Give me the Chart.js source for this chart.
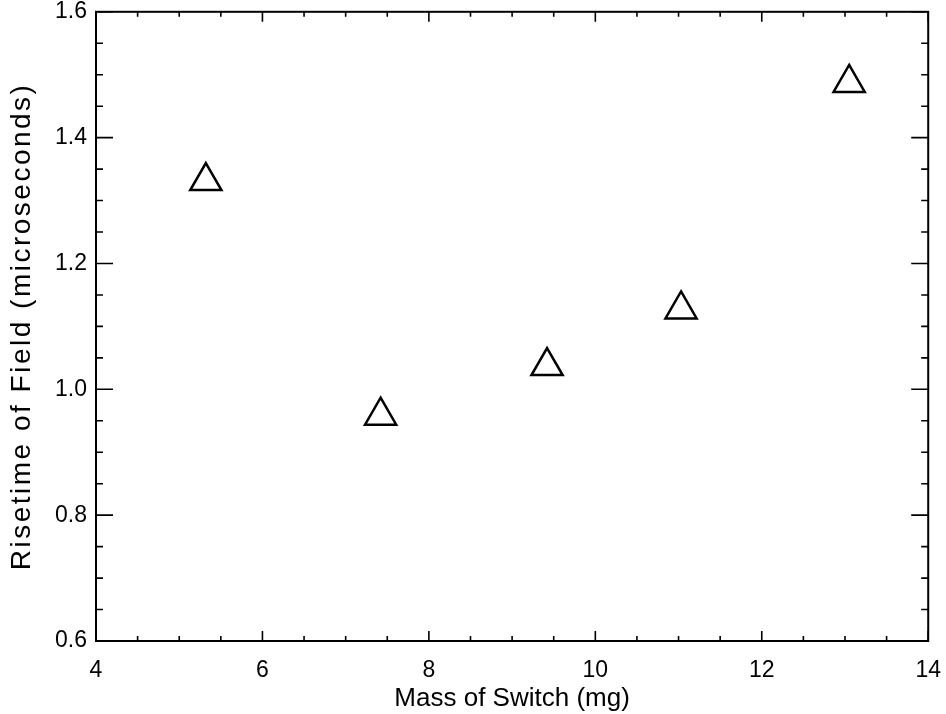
<!DOCTYPE html>
<html>
<head>
<meta charset="utf-8">
<script src="https://cdn.jsdelivr.net/npm/chart.js@4"></script>
<style>
  html,body{margin:0;padding:0;background:#fff;overflow:hidden}
  #wrap{width:946px;height:714px;overflow:hidden}
  /* Chart.js keeps ~11px for the end tick labels; pull the canvas so the box sits where the scan has it */
  #c{display:block;margin-top:-11px}
</style>
</head>
<body>
<div id="wrap"><canvas id="c" width="957" height="725"></canvas></div>
<script>
// data
const massMg   = [5.32, 7.42, 9.42, 11.03, 13.05];
const risetime = [1.331, 0.958, 1.037, 1.127, 1.487];
const xRange = [4, 14];
const yRange = [0.6, 1.6];

const FONT = "'Liberation Sans', Arial, Helvetica, sans-serif";

// inward ticks on all four sides + frame, like the IDL plot box
const boxTicks = {
  id: 'boxTicks',
  afterDraw(chart) {
    const { ctx, chartArea: a, scales: { x, y } } = chart;
    ctx.save();
    ctx.strokeStyle = '#000';
    ctx.lineWidth = 2;
    ctx.strokeRect(a.left, a.top, a.right - a.left, a.bottom - a.top);
    ctx.lineWidth = 1.6;
    ctx.beginPath();
    // x: minor every 0.5, major every 2
    for (let i = 0; i <= 20; i++) {
      const px = x.getPixelForValue(xRange[0] + i * 0.5);
      const len = i % 4 === 0 ? 10 : 5;
      ctx.moveTo(px, a.bottom); ctx.lineTo(px, a.bottom - len);
      ctx.moveTo(px, a.top); ctx.lineTo(px, a.top + len);
    }
    // y: minor every 0.05, major every 0.2
    for (let i = 0; i <= 20; i++) {
      const py = y.getPixelForValue(yRange[0] + i * 0.05);
      const len = i % 4 === 0 ? 17 : 7;
      ctx.moveTo(a.left, py); ctx.lineTo(a.left + len, py);
      ctx.moveTo(a.right, py); ctx.lineTo(a.right - len, py);
    }
    ctx.stroke();
    ctx.restore();
  }
};

new Chart(document.getElementById('c'), {
  type: 'scatter',
  data: {
    datasets: [{
      data: massMg.map((m, i) => ({ x: m, y: risetime[i] })),
      pointStyle: 'triangle',
      pointRadius: 18,
      pointHoverRadius: 18,
      borderColor: '#000',
      backgroundColor: 'rgba(0,0,0,0)',
      borderWidth: 2.5,
      showLine: false
    }]
  },
  options: {
    responsive: false,
    animation: false,
    layout: { padding: { top: 0, right: 7, left: 0, bottom: 0 } },
    plugins: { legend: { display: false }, tooltip: { enabled: false } },
    scales: {
      x: {
        type: 'linear', min: xRange[0], max: xRange[1],
        grid: { display: false, drawTicks: false }, border: { display: false },
        ticks: { stepSize: 2, color: '#000', padding: 16, font: { family: FONT, size: 23 } },
        title: { display: true, text: 'Mass of Switch (mg)', color: '#000', padding: { top: 0, bottom: 0 },
                 font: { family: FONT, size: 26 } },
        afterFit(s) { s.height = 73; }
      },
      y: {
        type: 'linear', min: yRange[0], max: yRange[1],
        grid: { display: false, drawTicks: false }, border: { display: false },
        ticks: { stepSize: 0.2, color: '#000', padding: 9, font: { family: FONT, size: 23 },
                 callback: v => v.toFixed(1) },
        title: { display: true, text: 'Risetime of Field (microseconds)', color: '#000', padding: { top: 5, bottom: 0 },
                 font: { family: FONT, size: 28 } },
        afterFit(s) {
          s.width = 96;
          // the scanned title is stretched along the axis; widen it a bit
          if (!s._spaced) {
            const orig = s.drawTitle;
            s.drawTitle = function (...args) {
              const ctx = this.ctx;
              const prev = ctx.letterSpacing;
              ctx.letterSpacing = '2.5px';
              orig.apply(this, args);
              ctx.letterSpacing = prev || '0px';
            };
            s._spaced = true;
          }
        }
      }
    }
  },
  plugins: [boxTicks]
});
</script>
</body>
</html>
